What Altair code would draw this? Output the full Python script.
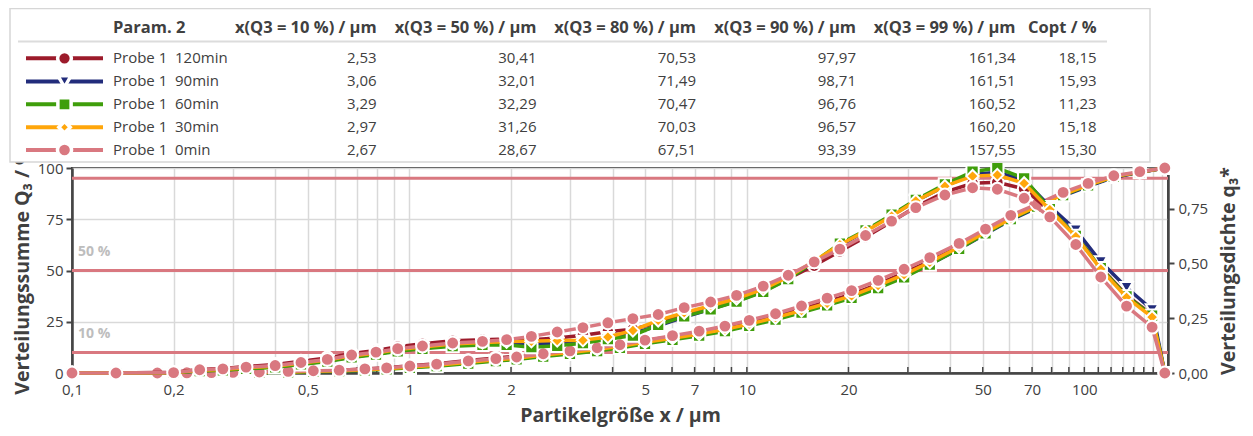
import altair as alt
import pandas as pd

# ---------------- data ----------------
series = ["Probe 1\u00a0 120min", "Probe 1\u00a0 90min", "Probe 1\u00a0 60min",
          "Probe 1\u00a0 30min", "Probe 1\u00a0 0min"]

x_q3 = [0.1, 0.135, 0.179, 0.219, 0.259, 0.300, 0.359, 0.437, 0.519, 0.619, 0.738, 0.856,
        1.003, 1.204, 1.494, 1.804, 2.078, 2.491, 2.99, 3.60, 4.205, 4.99, 6.02, 7.22, 8.61,
        10.16, 12.16, 14.52, 17.29, 20.43, 24.49, 29.24, 34.84, 42.56, 50.96, 60.55, 72.45,
        86.53, 102.6, 122.3, 146.0, 173.2]
q3_120 = [0, 0, 0, 0, 0.1, 0.2, 0.4, 0.7, 1.0, 1.4, 2.0, 2.6, 3.5, 4.5, 6.1, 7.3, 8.2, 9.9, 11.1,
          12.5, 13.9, 15.9, 17.8, 19.7, 22.0, 24.6, 27.6, 31.2, 34.8, 38.4, 43.4, 48.8, 54.6,
          61.7, 68.6, 75.0, 81.0, 86.8, 91.4, 95.6, 97.9, 100]
q3_90 = [0, 0, 0, 0, 0, 0.1, 0.2, 0.4, 0.7, 1.0, 1.5, 2.0, 2.8, 3.6, 5.0, 6.2, 7.0, 8.5, 9.8,
         11.2, 12.6, 14.6, 16.6, 18.6, 20.8, 23.4, 26.4, 29.9, 33.4, 36.9, 41.8, 47.1, 53.0,
         60.5, 67.8, 74.6, 80.6, 86.4, 91.1, 95.5, 97.9, 100]
q3_60 = [0, 0, 0, 0, 0, 0, 0.1, 0.3, 0.6, 0.9, 1.3, 1.8, 2.5, 3.3, 4.6, 5.8, 6.6, 8.0, 9.3,
         10.7, 12.2, 14.2, 16.2, 18.2, 20.4, 23.0, 26.0, 29.5, 33.0, 36.6, 41.4, 46.6, 52.9,
         60.6, 68.1, 75.0, 81.1, 86.8, 91.5, 95.7, 98.0, 100]
q3_30 = [0, 0, 0, 0, 0, 0.1, 0.3, 0.5, 0.8, 1.1, 1.6, 2.1, 2.9, 3.8, 5.2, 6.4, 7.2, 8.8, 10.0,
         11.5, 13.0, 15.0, 17.0, 19.0, 21.3, 23.9, 27.0, 30.5, 34.0, 37.6, 42.7, 48.0, 54.0,
         61.5, 68.7, 75.3, 81.4, 87.0, 91.6, 95.8, 98.0, 100]
q3_0 = [0, 0, 0, 0.1, 0.2, 0.3, 0.5, 0.8, 1.1, 1.4, 2.0, 2.5, 3.4, 4.3, 5.9, 7.0, 7.8, 9.4, 10.8,
        12.3, 13.8, 16.0, 18.2, 20.4, 22.9, 25.7, 28.9, 32.7, 36.5, 40.2, 45.2, 50.6, 56.3,
        63.2, 70.2, 76.9, 82.4, 88.1, 92.5, 96.2, 98.2, 100]

x_dens = [0.1, 0.135, 0.2, 0.239, 0.28, 0.328, 0.40, 0.477, 0.571, 0.674, 0.796, 0.923, 1.093,
          1.343, 1.646, 1.941, 2.298, 2.741, 3.267, 3.873, 4.594, 5.46, 6.52, 7.81, 9.32, 11.18,
          13.26, 15.83, 18.86, 22.47, 26.84, 31.67, 38.62, 46.65, 55.23, 66.31, 79.04, 94.37,
          111.9, 133.4, 158.8, 173.2]
d_120 = [0, 0, 0.003, 0.016, 0.021, 0.030, 0.039, 0.054, 0.069, 0.089, 0.103, 0.120, 0.133,
         0.147, 0.152, 0.155, 0.152, 0.160, 0.172, 0.188, 0.200, 0.230, 0.270, 0.305, 0.340,
         0.380, 0.430, 0.490, 0.555, 0.620, 0.690, 0.758, 0.825, 0.865, 0.870, 0.840, 0.740,
         0.628, 0.480, 0.355, 0.265, 0]
d_90 = [0, 0, 0.001, 0.010, 0.014, 0.021, 0.028, 0.041, 0.055, 0.074, 0.087, 0.102, 0.113,
        0.126, 0.132, 0.134, 0.132, 0.136, 0.145, 0.162, 0.180, 0.215, 0.255, 0.290, 0.328,
        0.372, 0.430, 0.505, 0.580, 0.648, 0.718, 0.785, 0.852, 0.905, 0.915, 0.880, 0.760,
        0.652, 0.507, 0.390, 0.289, 0]
d_60 = [0, 0, 0.001, 0.009, 0.012, 0.019, 0.026, 0.039, 0.052, 0.071, 0.084, 0.099, 0.110,
        0.122, 0.128, 0.128, 0.118, 0.124, 0.136, 0.154, 0.171, 0.220, 0.258, 0.290, 0.326,
        0.370, 0.428, 0.508, 0.590, 0.651, 0.722, 0.790, 0.860, 0.918, 0.935, 0.888, 0.748,
        0.625, 0.478, 0.350, 0.262, 0]
d_30 = [0, 0, 0.001, 0.012, 0.016, 0.024, 0.031, 0.045, 0.059, 0.078, 0.091, 0.107, 0.119,
        0.132, 0.139, 0.143, 0.145, 0.148, 0.149, 0.164, 0.194, 0.240, 0.275, 0.307, 0.340,
        0.382, 0.438, 0.510, 0.585, 0.647, 0.715, 0.785, 0.852, 0.898, 0.903, 0.865, 0.745,
        0.622, 0.474, 0.345, 0.255, 0]
d_0 = [0, 0, 0.002, 0.015, 0.019, 0.027, 0.034, 0.048, 0.062, 0.082, 0.095, 0.111, 0.123,
       0.137, 0.144, 0.152, 0.167, 0.187, 0.207, 0.229, 0.248, 0.267, 0.298, 0.324, 0.354,
       0.396, 0.446, 0.507, 0.565, 0.627, 0.693, 0.754, 0.812, 0.845, 0.838, 0.797, 0.712,
       0.586, 0.438, 0.305, 0.209, 0]

x10 = [2.53, 3.06, 3.29, 2.97, 2.67]
x50 = [30.41, 32.01, 32.29, 31.26, 28.67]
x80 = [70.53, 71.49, 70.47, 70.03, 67.51]
x90 = [97.97, 98.71, 96.76, 96.57, 93.39]
x99 = [161.34, 161.51, 160.52, 160.20, 157.55]
copt = [18.15, 15.93, 11.23, 15.18, 15.30]
headers = ["x(Q3 = 10 %) / µm", "x(Q3 = 50 %) / µm", "x(Q3 = 80 %) / µm",
           "x(Q3 = 90 %) / µm", "x(Q3 = 99 %) / µm", "Copt / %"]
param_header = "Param. 2"

ref_levels = [10, 50, 95]
ref_label_levels = [10, 50]
ref_labels = ["10 %", "50 %"]

grid_vals = [0.1, 0.2, 0.3, 0.4, 0.5, 0.6, 0.7, 0.8, 0.9, 1, 2, 3, 4, 5, 6, 7, 8, 9,
             10, 20, 30, 40, 50, 60, 70, 80, 90, 100, 110, 120, 130, 140, 150, 160, 170]
x_label_vals = [0.1, 0.2, 0.5, 1, 2, 5, 7, 10, 20, 50, 70, 100]

# ---------------- styles ----------------
colors = ["#9c1b2b", "#222c7b", "#3f9e0b", "#ffa60a", "#d97880"]
shapes = ["circle", "triangle-down", "square", "diamond", "circle"]
sizes = [160, 160, 150, 150, 165]
leg_sizes = [190, 170, 175, 130, 200]
FONT = "Open Sans"
TXT = "#404040"
GRID = "#d9d9d9"
AX = "#454545"
W, H = 1096, 205

# table pixel layout relative to plot origin
col_px = [304.7, 464.5, 624, 784, 943.5, 1024.7]
row_py = [-109.7, -86.6, -63.7, -40.7, -18]
header_py = -140
name_px = 41

xscale = alt.Scale(type="log", domain=[0.1, 177], nice=False)
ylscale = alt.Scale(domain=[0, 100], nice=False)
yrscale = alt.Scale(domain=[0, 0.935], nice=False)

x_axis = alt.Axis(
    values=grid_vals,
    labelExpr="indexof(%s, datum.value) >= 0 ? replace(format(datum.value, '~g'), '.', ',') : ''"
    % str(x_label_vals),
    grid=True, gridColor=GRID, gridWidth=1.5, ticks=False,
    domainColor=AX, domainWidth=2.5, labelFontSize=15, labelColor=TXT, labelPadding=9,
    labelFlush=False, labelOverlap=False,
    title="Partikelgröße x / µm", titleFontSize=19.5, titleFontWeight="bold", titleColor=TXT,
    titlePadding=9)

yl_axis = alt.Axis(
    orient="left", values=[0, 25, 50, 75, 100], grid=True, gridColor=GRID, gridWidth=1.5,
    tickSize=6, tickColor=AX, tickWidth=2, domainColor=AX, domainWidth=2.5,
    labelFontSize=15, labelColor=TXT, labelFlush=False, labelPadding=3,
    title="Verteilungssumme Q₃ / %", titleFontSize=19.5, titleFontWeight="bold",
    titleColor=TXT, titlePadding=5)

yr_axis = alt.Axis(
    orient="right", values=[0, 0.25, 0.5, 0.75], grid=False,
    labelExpr="replace(format(datum.value, '.2f'), '.', ',')",
    tickSize=6, tickColor=AX, tickWidth=2, domainColor=AX, domainWidth=2.5,
    labelFontSize=15, labelColor=TXT, labelFlush=False, labelPadding=4,
    title="Verteilungsdichte q₃*", titleFontSize=19.5, titleFontWeight="bold",
    titleColor=TXT, titleAngle=270, titlePadding=31)

X = lambda f: alt.X(f, scale=xscale, axis=x_axis)
YL = lambda f: alt.Y(f, scale=ylscale, axis=yl_axis)
YR = lambda f: alt.Y(f, scale=yrscale, axis=yr_axis)


def series_layers(xs, ys_list, yfn):
    layers = []
    for i, ys in enumerate(ys_list):
        df = pd.DataFrame({"x": xs, "v": ys})
        base = alt.Chart(df)
        layers.append(base.mark_line(color=colors[i], strokeWidth=3.5).encode(
            x=X("x:Q"), y=yfn("v:Q")))
        layers.append(base.mark_point(shape=shapes[i], size=sizes[i], filled=True,
                                      fill=colors[i], stroke="white", strokeWidth=2,
                                      opacity=1).encode(x=X("x:Q"), y=yfn("v:Q")))
    return layers


# ---------- left (Q3) layer ----------
ref_df = pd.DataFrame({"level": ref_levels})
ref_rules = alt.Chart(ref_df).mark_rule(color="#d97880", strokeWidth=3).encode(y=YL("level:Q"))

tick_df = pd.DataFrame({"t": grid_vals[1:]})
inner_ticks = alt.Chart(tick_df).mark_rule(color=AX, strokeWidth=1.5).encode(
    x=X("t:Q"), y=alt.value(H), y2=alt.value(H - 6))

lab_df = pd.DataFrame({"level": ref_label_levels, "text": ref_labels,
                       "x": [0.1] * len(ref_labels)})
ref_text = alt.Chart(lab_df).mark_text(align="left", baseline="middle", dx=6, dy=-19,
                                       fontSize=14, fontWeight="bold", color="#bdbdbd",
                                       font=FONT).encode(
    x=X("x:Q"), y=YL("level:Q"), text="text:N")

left = alt.layer(ref_rules, inner_ticks, ref_text,
                 *series_layers(x_q3, [q3_120, q3_90, q3_60, q3_30, q3_0], YL))

# ---------- right (q3*) layer ----------
right = alt.layer(*series_layers(x_dens, [d_120, d_90, d_60, d_30, d_0], YR))

# ---------- legend table ----------
one = pd.DataFrame({"a": [0]})
box = alt.Chart(one).mark_rect(fill="white", stroke="#d6d6d6", strokeWidth=1.5).encode(
    x=alt.value(-62), x2=alt.value(1078), y=alt.value(-159.5), y2=alt.value(-6))
sep = alt.Chart(one).mark_rule(color="#dcdcdc", strokeWidth=2).encode(
    x=alt.value(-54), x2=alt.value(1035), y=alt.value(-126.5))

PX = lambda f: alt.X(f, scale=None, axis=None)
PY = lambda f: alt.Y(f, scale=None, axis=None)

hdr_df = pd.DataFrame({"px": col_px, "py": [header_py] * len(headers), "t": headers})
hdr = alt.Chart(hdr_df).mark_text(align="right", baseline="middle", fontSize=16.5,
                                  fontWeight="bold", color=TXT, font=FONT).encode(
    x=PX("px:Q"), y=PY("py:Q"), text="t:N")
hdr0 = alt.Chart(pd.DataFrame({"px": [name_px], "py": [header_py], "t": [param_header]})).mark_text(
    align="left", baseline="middle", fontSize=16.5, fontWeight="bold", color=TXT, font=FONT).encode(
    x=PX("px:Q"), y=PY("py:Q"), text="t:N")

name_df = pd.DataFrame({"px": [name_px] * 5, "py": row_py, "t": series})
names = alt.Chart(name_df).mark_text(align="left", baseline="middle", fontSize=15,
                                     color=TXT, font=FONT).encode(
    x=PX("px:Q"), y=PY("py:Q"), text="t:N")

cells = []
for ci, col in enumerate([x10, x50, x80, x90, x99, copt]):
    for ri, v in enumerate(col):
        cells.append({"px": col_px[ci], "py": row_py[ri],
                      "t": ("%.2f" % v).replace(".", ",")})
num = alt.Chart(pd.DataFrame(cells)).mark_text(align="right", baseline="middle", fontSize=15,
                                               color=TXT, font=FONT).encode(
    x=PX("px:Q"), y=PY("py:Q"), text="t:N")

leg_layers = []
for i in range(5):
    d = pd.DataFrame({"py": [row_py[i]], "px": [-7.5]})
    leg_layers.append(alt.Chart(d).mark_rule(color=colors[i], strokeWidth=4).encode(
        x=alt.value(-46), x2=alt.value(31), y=PY("py:Q")))
    leg_layers.append(alt.Chart(d).mark_point(shape=shapes[i], size=leg_sizes[i], filled=True,
                                              fill=colors[i], stroke="white", strokeWidth=3.5,
                                              opacity=1).encode(x=PX("px:Q"), y=PY("py:Q")))

table = alt.layer(box, sep, hdr, hdr0, names, num, *leg_layers)

chart = alt.layer(left, right, table).resolve_scale(y="independent").properties(
    width=W, height=H,
    padding={"left": 64, "top": 160, "right": 77, "bottom": 55},
    autosize=alt.AutoSizeParams(type="none")
).configure(font=FONT).configure_view(stroke=AX, strokeWidth=2)

chart.save("out.html", embed_options={"renderer": "svg", "actions": False})
